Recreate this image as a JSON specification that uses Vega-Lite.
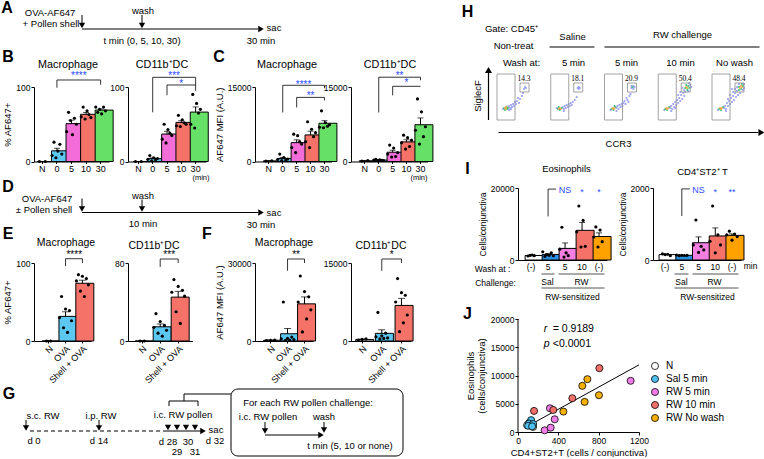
{
"$schema": "https://vega.github.io/schema/vega-lite/v6.json",
"padding": 0,
"background": "white",
"bounds": "flush",
"align": "each",
"columns": 12,
"spacing": 0,
"resolve": {"scale": {"fill": "independent", "color": "independent", "xOffset": "independent", "x": "independent", "y": "independent"}, "legend": {"fill": "independent", "color": "independent"}},
"config": {
 "font": "Liberation Sans",
 "view": {"stroke": null},
 "axis": {"labelFont": "Liberation Sans", "titleFont": "Liberation Sans", "labelFontSize": 8.5, "titleFontSize": 9.5, "titleFontWeight": "normal", "labelColor": "black", "titleColor": "black", "domainColor": "black", "tickColor": "black", "grid": false, "tickSize": 3, "labelPadding": 1, "titlePadding": 3, "domainWidth": 1, "tickWidth": 1, "labelFlush": false, "labelOverlap": false},
 "text": {"font": "Liberation Sans", "color": "black"},
 "legend": {"labelFont": "Liberation Sans", "labelColor": "black"}
},
"datasets": {
 "diag": [
  {"d":"A","k":"b","x":7,"y":8,"t":"A"},
  {"d":"A","k":"t","x":50,"y":13,"t":"OVA-AF647"},
  {"d":"A","k":"t","x":51,"y":24,"t":"+ Pollen shell"},
  {"d":"A","k":"t","x":143,"y":11,"t":"wash"},
  {"d":"A","k":"t","x":274,"y":28,"t":"sac"},
  {"d":"A","k":"t","x":142,"y":41,"t":"t min (0, 5, 10, 30)"},
  {"d":"A","k":"t","x":261,"y":41,"t":"30 min"},
  {"d":"A","k":"r","x":82,"y":29,"x2":258,"y2":29},
  {"d":"A","k":"r","x":82,"y":15,"x2":82,"y2":24},
  {"d":"A","k":"r","x":142,"y":15,"x2":142,"y2":24},
  {"d":"A","k":"vd","x":82,"y":25.5},
  {"d":"A","k":"vd","x":142,"y":25.5},
  {"d":"A","k":"vr","x":261,"y":29},
  {"d":"A","k":"b","x":8,"y":57,"t":"B"},
  {"d":"A","k":"b","x":219,"y":57,"t":"C"},
  {"d":"A","k":"ti","x":68,"y":65,"t":"Macrophage"},
  {"d":"A","k":"ti","x":162,"y":65,"t":"CD11b⁺DC"},
  {"d":"A","k":"ti","x":287,"y":65,"t":"Macrophage"},
  {"d":"A","k":"ti","x":390,"y":65,"t":"CD11b⁺DC"},
  {"d":"D","k":"ts","x":201,"y":177,"t":"(min)"},
  {"d":"D","k":"ts","x":419,"y":177,"t":"(min)"},
  {"d":"D","k":"b","x":8,"y":186,"t":"D"},
  {"d":"D","k":"t","x":47,"y":198,"t":"OVA-AF647"},
  {"d":"D","k":"t","x":44,"y":209,"t":"± Pollen shell"},
  {"d":"D","k":"t","x":143,"y":195,"t":"wash"},
  {"d":"D","k":"t","x":274,"y":212,"t":"sac"},
  {"d":"D","k":"t","x":143,"y":223,"t":"10 min"},
  {"d":"D","k":"t","x":261,"y":224,"t":"30 min"},
  {"d":"D","k":"r","x":82,"y":212,"x2":258,"y2":212},
  {"d":"D","k":"r","x":82,"y":198,"x2":82,"y2":207},
  {"d":"D","k":"r","x":142,"y":199,"x2":142,"y2":207},
  {"d":"D","k":"vd","x":82,"y":208.5},
  {"d":"D","k":"vd","x":142,"y":208.5},
  {"d":"D","k":"vr","x":261,"y":212},
  {"d":"D","k":"b","x":8,"y":233,"t":"E"},
  {"d":"D","k":"b","x":207,"y":233,"t":"F"},
  {"d":"D","k":"ti","x":66,"y":242,"t":"Macrophage"},
  {"d":"D","k":"ti","x":154,"y":245,"t":"CD11b⁺DC"},
  {"d":"D","k":"ti","x":284,"y":242,"t":"Macrophage"},
  {"d":"D","k":"ti","x":381,"y":245,"t":"CD11b⁺DC"},
  {"d":"G","k":"b","x":9,"y":393,"t":"G"},
  {"d":"G","k":"t","x":43,"y":415,"t":"s.c. RW"},
  {"d":"G","k":"t","x":101,"y":415,"t":"i.p. RW"},
  {"d":"G","k":"t","x":183,"y":414,"t":"i.c. RW pollen"},
  {"d":"G","k":"t","x":34,"y":440,"t":"d 0"},
  {"d":"G","k":"t","x":99,"y":440,"t":"d 14"},
  {"d":"G","k":"t","x":168,"y":441,"t":"d 28"},
  {"d":"G","k":"t","x":188,"y":441,"t":"30"},
  {"d":"G","k":"t","x":177,"y":451,"t":"29"},
  {"d":"G","k":"t","x":195,"y":451,"t":"31"},
  {"d":"G","k":"t","x":216,"y":429,"t":"sac"},
  {"d":"G","k":"t","x":215,"y":440,"t":"d 32"},
  {"d":"G","k":"r","x":26,"y":419,"x2":26,"y2":425},
  {"d":"G","k":"vd","x":26,"y":427},
  {"d":"G","k":"r","x":99,"y":419,"x2":99,"y2":425},
  {"d":"G","k":"vd","x":99,"y":427},
  {"d":"G","k":"vd","x":168,"y":426.5},
  {"d":"G","k":"vd","x":177,"y":426.5},
  {"d":"G","k":"vd","x":186,"y":426.5},
  {"d":"G","k":"vd","x":195,"y":426.5},
  {"d":"G","k":"rd","x":30,"y":430,"x2":163,"y2":430},
  {"d":"G","k":"r","x":163,"y":430,"x2":201,"y2":430},
  {"d":"G","k":"vr","x":203,"y":430},
  {"d":"G","k":"r","x":169,"y":400,"x2":198,"y2":400},
  {"d":"G","k":"r","x":169,"y":400,"x2":169,"y2":405},
  {"d":"G","k":"r","x":198,"y":400,"x2":198,"y2":405},
  {"d":"G","k":"r","x":184,"y":393,"x2":184,"y2":400},
  {"d":"G","k":"r","x":184,"y":393,"x2":231,"y2":393},
  {"d":"G","k":"box","x":231,"y":388,"x2":403,"y2":455},
  {"d":"G","k":"t","x":308,"y":402,"t":"For each RW pollen challenge:"},
  {"d":"G","k":"t","x":268,"y":416,"t":"i.c. RW pollen"},
  {"d":"G","k":"t","x":324,"y":416,"t":"wash"},
  {"d":"G","k":"t","x":350,"y":445,"t":"t min (5, 10 or none)"},
  {"d":"G","k":"r","x":265,"y":421,"x2":265,"y2":428},
  {"d":"G","k":"vd","x":265,"y":430},
  {"d":"G","k":"r","x":265,"y":434,"x2":319,"y2":434},
  {"d":"G","k":"vr","x":321,"y":434},
  {"d":"G","k":"r","x":324,"y":421,"x2":324,"y2":427},
  {"d":"G","k":"vd","x":324,"y":429},
  {"d":"Ht","k":"b","x":466,"y":12,"t":"H"},
  {"d":"Ht","k":"t","x":510,"y":29,"t":"Gate: CD45⁺"},
  {"d":"Ht","k":"t","x":512,"y":46,"t":"Non-treat"},
  {"d":"Ht","k":"t","x":571,"y":37,"t":"Saline"},
  {"d":"Ht","k":"t","x":681,"y":35,"t":"RW challenge"},
  {"d":"Ht","k":"r","x":548,"y":47,"x2":593,"y2":47},
  {"d":"Ht","k":"r","x":603,"y":47,"x2":758,"y2":47},
  {"d":"Ht","k":"t","x":520,"y":63,"t":"Wash at:"},
  {"d":"Ht","k":"t","x":572,"y":63,"t":"5 min"},
  {"d":"Ht","k":"t","x":625,"y":63,"t":"5 min"},
  {"d":"Ht","k":"t","x":679,"y":63,"t":"10 min"},
  {"d":"Ht","k":"t","x":733,"y":63,"t":"No wash"},
  {"d":"Ht","k":"r","x":487,"y":73,"x2":487,"y2":120},
  {"d":"Ht","k":"vu","x":487,"y":70},
  {"d":"Ht","k":"tr","x":476,"y":96,"t":"SiglecF"},
  {"d":"Hb","k":"r","x":497,"y":132,"x2":757,"y2":132},
  {"d":"Hb","k":"vr","x":760,"y":132},
  {"d":"Hb","k":"t","x":617,"y":143,"t":"CCR3"},
  {"d":"Hb","k":"b","x":466,"y":168,"t":"I"},
  {"d":"Hb","k":"t","x":565,"y":168,"t":"Eosinophils"},
  {"d":"Hb","k":"t","x":701,"y":171,"t":"CD4⁺ST2⁺ T"},
  {"d":"IJ","k":"ts","x":491,"y":268,"t":"Wash at :"},
  {"d":"IJ","k":"ts","x":494,"y":282,"t":"Challenge:"},
  {"d":"IJ","k":"ts","x":546,"y":281,"t":"Sal"},
  {"d":"IJ","k":"ts","x":580,"y":281,"t":"RW"},
  {"d":"IJ","k":"ts","x":680,"y":281,"t":"Sal"},
  {"d":"IJ","k":"ts","x":713,"y":281,"t":"RW"},
  {"d":"IJ","k":"ts","x":749,"y":265,"t":"min"},
  {"d":"IJ","k":"ts","x":571,"y":296,"t":"RW-sensitized"},
  {"d":"IJ","k":"ts","x":706,"y":296,"t":"RW-sensitized"},
  {"d":"IJ","k":"r","x":540,"y":273,"x2":553,"y2":273},
  {"d":"IJ","k":"r","x":557,"y":273,"x2":603,"y2":273},
  {"d":"IJ","k":"r","x":540,"y":287,"x2":603,"y2":287},
  {"d":"IJ","k":"r","x":673,"y":273,"x2":687,"y2":273},
  {"d":"IJ","k":"r","x":691,"y":273,"x2":737,"y2":273},
  {"d":"IJ","k":"r","x":673,"y":287,"x2":737,"y2":287},
  {"d":"IJ","k":"b","x":466,"y":313,"t":"J"},
  {"d":"IJ","k":"tr","x":469,"y":375,"t":"Eosinophils"},
  {"d":"IJ","k":"tr","x":480,"y":375,"t":"(cells/conjunctiva)"}
 ],
 "flow": [
  {"p":1,"k":"f","y":0,"y2":46},{"p":2,"k":"f","y":0,"y2":46},{"p":3,"k":"f","y":0,"y2":46},{"p":4,"k":"f","y":0,"y2":46},{"p":5,"k":"f","y":0,"y2":46},
  {"p":1,"k":"g","x":27.5,"y":13.5},{"p":2,"k":"g","x":27.5,"y":13.5},{"p":3,"k":"g","x":27.5,"y":13.5},{"p":4,"k":"g","x":27.5,"y":13.5},{"p":5,"k":"g","x":27.5,"y":13.5},
  {"p":1,"k":"n","x":27,"y":4.5,"t":"14.3"},{"p":2,"k":"n","x":27,"y":4.5,"t":"18.1"},{"p":3,"k":"n","x":27,"y":4.5,"t":"20.9"},{"p":4,"k":"n","x":27,"y":4.5,"t":"50.4"},{"p":5,"k":"n","x":27,"y":4.5,"t":"48.4"},
  {"p":1,"k":"c","x":8,"y":34,"z":2},{"p":1,"k":"c","x":9,"y":35,"z":2},{"p":1,"k":"c","x":9,"y":33,"z":2},
  {"p":1,"k":"c","x":7,"y":34,"z":1},{"p":1,"k":"c","x":10,"y":33,"z":1},{"p":1,"k":"c","x":10,"y":35,"z":1},{"p":1,"k":"c","x":8,"y":36,"z":1},{"p":1,"k":"c","x":11,"y":34,"z":1},
  {"p":1,"k":"c","x":6,"y":35,"z":0},{"p":1,"k":"c","x":12,"y":32,"z":0},{"p":1,"k":"c","x":13,"y":34,"z":0},{"p":1,"k":"c","x":14,"y":31,"z":0},{"p":1,"k":"c","x":12,"y":36,"z":0},{"p":1,"k":"c","x":15,"y":33,"z":0},{"p":1,"k":"c","x":16,"y":30,"z":0},{"p":1,"k":"c","x":17,"y":32,"z":0},{"p":1,"k":"c","x":18,"y":28,"z":0},{"p":1,"k":"c","x":19,"y":30,"z":0},{"p":1,"k":"c","x":20,"y":27,"z":0},{"p":1,"k":"c","x":22,"y":29,"z":0},{"p":1,"k":"c","x":23,"y":25,"z":0},{"p":1,"k":"c","x":21,"y":24,"z":0},{"p":1,"k":"c","x":25,"y":22,"z":0},{"p":1,"k":"c","x":14,"y":35,"z":0},{"p":1,"k":"c","x":26,"y":19,"z":0},{"p":1,"k":"c","x":27,"y":15,"z":0},{"p":1,"k":"c","x":28,"y":13,"z":0},{"p":1,"k":"c","x":29,"y":14,"z":0},
  {"p":2,"k":"c","x":9,"y":34,"z":2},{"p":2,"k":"c","x":10,"y":35,"z":2},{"p":2,"k":"c","x":8,"y":35,"z":2},
  {"p":2,"k":"c","x":8,"y":33,"z":1},{"p":2,"k":"c","x":11,"y":34,"z":1},{"p":2,"k":"c","x":9,"y":36,"z":1},{"p":2,"k":"c","x":7,"y":35,"z":1},
  {"p":2,"k":"c","x":12,"y":33,"z":0},{"p":2,"k":"c","x":13,"y":35,"z":0},{"p":2,"k":"c","x":14,"y":32,"z":0},{"p":2,"k":"c","x":15,"y":34,"z":0},{"p":2,"k":"c","x":16,"y":31,"z":0},{"p":2,"k":"c","x":17,"y":33,"z":0},{"p":2,"k":"c","x":18,"y":30,"z":0},{"p":2,"k":"c","x":20,"y":29,"z":0},{"p":2,"k":"c","x":19,"y":32,"z":0},{"p":2,"k":"c","x":22,"y":28,"z":0},{"p":2,"k":"c","x":24,"y":26,"z":0},{"p":2,"k":"c","x":13,"y":37,"z":0},{"p":2,"k":"c","x":6,"y":34,"z":0},{"p":2,"k":"c","x":21,"y":31,"z":0},{"p":2,"k":"c","x":26,"y":23,"z":0},{"p":2,"k":"c","x":27,"y":14,"z":0},{"p":2,"k":"c","x":28,"y":13,"z":0},{"p":2,"k":"c","x":29,"y":14,"z":0},{"p":2,"k":"c","x":28,"y":15,"z":0},
  {"p":3,"k":"c","x":9,"y":35,"z":2},{"p":3,"k":"c","x":8,"y":34,"z":2},{"p":3,"k":"c","x":10,"y":34,"z":2},
  {"p":3,"k":"c","x":7,"y":35,"z":1},{"p":3,"k":"c","x":11,"y":33,"z":1},{"p":3,"k":"c","x":9,"y":36,"z":1},{"p":3,"k":"c","x":10,"y":32,"z":1},{"p":3,"k":"c","x":28,"y":13,"z":1},
  {"p":3,"k":"c","x":12,"y":34,"z":0},{"p":3,"k":"c","x":13,"y":32,"z":0},{"p":3,"k":"c","x":14,"y":35,"z":0},{"p":3,"k":"c","x":15,"y":31,"z":0},{"p":3,"k":"c","x":16,"y":33,"z":0},{"p":3,"k":"c","x":17,"y":30,"z":0},{"p":3,"k":"c","x":18,"y":32,"z":0},{"p":3,"k":"c","x":19,"y":29,"z":0},{"p":3,"k":"c","x":20,"y":27,"z":0},{"p":3,"k":"c","x":21,"y":30,"z":0},{"p":3,"k":"c","x":23,"y":26,"z":0},{"p":3,"k":"c","x":22,"y":24,"z":0},{"p":3,"k":"c","x":25,"y":22,"z":0},{"p":3,"k":"c","x":24,"y":28,"z":0},{"p":3,"k":"c","x":26,"y":20,"z":0},{"p":3,"k":"c","x":6,"y":36,"z":0},{"p":3,"k":"c","x":12,"y":37,"z":0},{"p":3,"k":"c","x":27,"y":14,"z":0},{"p":3,"k":"c","x":29,"y":12,"z":0},{"p":3,"k":"c","x":29,"y":15,"z":0},{"p":3,"k":"c","x":30,"y":13,"z":0},{"p":3,"k":"c","x":27,"y":12,"z":0},
  {"p":4,"k":"c","x":9,"y":35,"z":2},{"p":4,"k":"c","x":8,"y":34,"z":2},{"p":4,"k":"c","x":10,"y":34,"z":2},{"p":4,"k":"c","x":28,"y":13,"z":2},{"p":4,"k":"c","x":29,"y":14,"z":2},
  {"p":4,"k":"c","x":7,"y":35,"z":1},{"p":4,"k":"c","x":11,"y":33,"z":1},{"p":4,"k":"c","x":9,"y":36,"z":1},{"p":4,"k":"c","x":27,"y":14,"z":1},{"p":4,"k":"c","x":30,"y":12,"z":1},{"p":4,"k":"c","x":29,"y":16,"z":1},{"p":4,"k":"c","x":28,"y":11,"z":1},{"p":4,"k":"c","x":31,"y":14,"z":1},
  {"p":4,"k":"c","x":12,"y":34,"z":0},{"p":4,"k":"c","x":13,"y":32,"z":0},{"p":4,"k":"c","x":14,"y":35,"z":0},{"p":4,"k":"c","x":15,"y":30,"z":0},{"p":4,"k":"c","x":16,"y":33,"z":0},{"p":4,"k":"c","x":17,"y":28,"z":0},{"p":4,"k":"c","x":18,"y":31,"z":0},{"p":4,"k":"c","x":19,"y":26,"z":0},{"p":4,"k":"c","x":20,"y":29,"z":0},{"p":4,"k":"c","x":21,"y":24,"z":0},{"p":4,"k":"c","x":22,"y":27,"z":0},{"p":4,"k":"c","x":23,"y":21,"z":0},{"p":4,"k":"c","x":24,"y":25,"z":0},{"p":4,"k":"c","x":25,"y":19,"z":0},{"p":4,"k":"c","x":26,"y":22,"z":0},{"p":4,"k":"c","x":26,"y":16,"z":0},{"p":4,"k":"c","x":24,"y":14,"z":0},{"p":4,"k":"c","x":32,"y":11,"z":0},{"p":4,"k":"c","x":30,"y":17,"z":0},{"p":4,"k":"c","x":22,"y":18,"z":0},{"p":4,"k":"c","x":20,"y":21,"z":0},{"p":4,"k":"c","x":6,"y":36,"z":0},{"p":4,"k":"c","x":13,"y":37,"z":0},{"p":4,"k":"c","x":17,"y":34,"z":0},{"p":4,"k":"c","x":27,"y":18,"z":0},{"p":4,"k":"c","x":31,"y":9,"z":0},{"p":4,"k":"c","x":33,"y":13,"z":0},
  {"p":5,"k":"c","x":9,"y":35,"z":2},{"p":5,"k":"c","x":8,"y":34,"z":2},{"p":5,"k":"c","x":10,"y":34,"z":2},{"p":5,"k":"c","x":29,"y":12,"z":2},{"p":5,"k":"c","x":30,"y":13,"z":2},{"p":5,"k":"c","x":28,"y":14,"z":2},
  {"p":5,"k":"c","x":7,"y":35,"z":1},{"p":5,"k":"c","x":11,"y":33,"z":1},{"p":5,"k":"c","x":9,"y":36,"z":1},{"p":5,"k":"c","x":27,"y":13,"z":1},{"p":5,"k":"c","x":31,"y":12,"z":1},{"p":5,"k":"c","x":29,"y":15,"z":1},{"p":5,"k":"c","x":30,"y":10,"z":1},{"p":5,"k":"c","x":27,"y":16,"z":1},
  {"p":5,"k":"c","x":12,"y":34,"z":0},{"p":5,"k":"c","x":13,"y":32,"z":0},{"p":5,"k":"c","x":14,"y":35,"z":0},{"p":5,"k":"c","x":15,"y":29,"z":0},{"p":5,"k":"c","x":16,"y":32,"z":0},{"p":5,"k":"c","x":17,"y":27,"z":0},{"p":5,"k":"c","x":18,"y":30,"z":0},{"p":5,"k":"c","x":19,"y":24,"z":0},{"p":5,"k":"c","x":20,"y":28,"z":0},{"p":5,"k":"c","x":21,"y":22,"z":0},{"p":5,"k":"c","x":22,"y":26,"z":0},{"p":5,"k":"c","x":23,"y":19,"z":0},{"p":5,"k":"c","x":24,"y":23,"z":0},{"p":5,"k":"c","x":25,"y":17,"z":0},{"p":5,"k":"c","x":26,"y":21,"z":0},{"p":5,"k":"c","x":25,"y":13,"z":0},{"p":5,"k":"c","x":23,"y":15,"z":0},{"p":5,"k":"c","x":32,"y":10,"z":0},{"p":5,"k":"c","x":31,"y":16,"z":0},{"p":5,"k":"c","x":21,"y":18,"z":0},{"p":5,"k":"c","x":18,"y":21,"z":0},{"p":5,"k":"c","x":6,"y":36,"z":0},{"p":5,"k":"c","x":14,"y":37,"z":0},{"p":5,"k":"c","x":16,"y":25,"z":0},{"p":5,"k":"c","x":28,"y":19,"z":0},{"p":5,"k":"c","x":32,"y":14,"z":0},{"p":5,"k":"c","x":27,"y":10,"z":0},{"p":5,"k":"c","x":20,"y":15,"z":0}
 ],
 "bars": [
  {"c":"Bmac","g":"N","i":1,"v":0},{"c":"Bmac","g":"N","i":4,"v":0},
  {"c":"Bmac","g":"0","i":0,"v":8},{"c":"Bmac","g":"0","i":1,"v":26},{"c":"Bmac","g":"0","i":2,"v":5},{"c":"Bmac","g":"0","i":3,"v":14},{"c":"Bmac","g":"0","i":4,"v":23},{"c":"Bmac","g":"0","i":5,"v":10},
  {"c":"Bmac","g":"5","i":0,"v":40},{"c":"Bmac","g":"5","i":1,"v":66},{"c":"Bmac","g":"5","i":2,"v":55},{"c":"Bmac","g":"5","i":3,"v":36},{"c":"Bmac","g":"5","i":4,"v":58},{"c":"Bmac","g":"5","i":5,"v":50},
  {"c":"Bmac","g":"10","i":0,"v":60},{"c":"Bmac","g":"10","i":1,"v":73},{"c":"Bmac","g":"10","i":2,"v":57},{"c":"Bmac","g":"10","i":3,"v":68},{"c":"Bmac","g":"10","i":4,"v":63},{"c":"Bmac","g":"10","i":5,"v":59},
  {"c":"Bmac","g":"30","i":0,"v":73},{"c":"Bmac","g":"30","i":1,"v":66},{"c":"Bmac","g":"30","i":2,"v":70},{"c":"Bmac","g":"30","i":3,"v":64},{"c":"Bmac","g":"30","i":4,"v":73},{"c":"Bmac","g":"30","i":5,"v":68},
  {"c":"Bdc","g":"N","i":1,"v":0},{"c":"Bdc","g":"N","i":4,"v":0},
  {"c":"Bdc","g":"0","i":0,"v":3},{"c":"Bdc","g":"0","i":1,"v":8},{"c":"Bdc","g":"0","i":2,"v":1},{"c":"Bdc","g":"0","i":3,"v":5},{"c":"Bdc","g":"0","i":4,"v":2},{"c":"Bdc","g":"0","i":5,"v":4},
  {"c":"Bdc","g":"5","i":0,"v":30},{"c":"Bdc","g":"5","i":1,"v":50},{"c":"Bdc","g":"5","i":2,"v":25},{"c":"Bdc","g":"5","i":3,"v":43},{"c":"Bdc","g":"5","i":4,"v":38},{"c":"Bdc","g":"5","i":5,"v":35},
  {"c":"Bdc","g":"10","i":0,"v":48},{"c":"Bdc","g":"10","i":1,"v":62},{"c":"Bdc","g":"10","i":2,"v":47},{"c":"Bdc","g":"10","i":3,"v":56},{"c":"Bdc","g":"10","i":4,"v":52},{"c":"Bdc","g":"10","i":5,"v":50},
  {"c":"Bdc","g":"30","i":0,"v":50},{"c":"Bdc","g":"30","i":1,"v":90},{"c":"Bdc","g":"30","i":2,"v":45},{"c":"Bdc","g":"30","i":3,"v":78},{"c":"Bdc","g":"30","i":4,"v":65},{"c":"Bdc","g":"30","i":5,"v":70},
  {"c":"Cmac","g":"N","i":1,"v":100},{"c":"Cmac","g":"N","i":4,"v":150},
  {"c":"Cmac","g":"0","i":0,"v":400},{"c":"Cmac","g":"0","i":1,"v":1500},{"c":"Cmac","g":"0","i":2,"v":200},{"c":"Cmac","g":"0","i":3,"v":800},{"c":"Cmac","g":"0","i":4,"v":300},{"c":"Cmac","g":"0","i":5,"v":500},
  {"c":"Cmac","g":"5","i":0,"v":2800},{"c":"Cmac","g":"5","i":1,"v":5500},{"c":"Cmac","g":"5","i":2,"v":1800},{"c":"Cmac","g":"5","i":3,"v":5200},{"c":"Cmac","g":"5","i":4,"v":4000},{"c":"Cmac","g":"5","i":5,"v":3500},
  {"c":"Cmac","g":"10","i":0,"v":4000},{"c":"Cmac","g":"10","i":1,"v":8000},{"c":"Cmac","g":"10","i":2,"v":2800},{"c":"Cmac","g":"10","i":3,"v":6500},{"c":"Cmac","g":"10","i":4,"v":5000},{"c":"Cmac","g":"10","i":5,"v":5800},
  {"c":"Cmac","g":"30","i":0,"v":6900},{"c":"Cmac","g":"30","i":1,"v":10200},{"c":"Cmac","g":"30","i":2,"v":6800},{"c":"Cmac","g":"30","i":3,"v":7800},{"c":"Cmac","g":"30","i":4,"v":7100},{"c":"Cmac","g":"30","i":5,"v":7400},
  {"c":"Cdc","g":"N","i":1,"v":100},{"c":"Cdc","g":"N","i":4,"v":200},
  {"c":"Cdc","g":"0","i":0,"v":300},{"c":"Cdc","g":"0","i":1,"v":450},{"c":"Cdc","g":"0","i":2,"v":150},{"c":"Cdc","g":"0","i":3,"v":350},{"c":"Cdc","g":"0","i":4,"v":250},{"c":"Cdc","g":"0","i":5,"v":200},
  {"c":"Cdc","g":"5","i":0,"v":1500},{"c":"Cdc","g":"5","i":1,"v":3300},{"c":"Cdc","g":"5","i":2,"v":900},{"c":"Cdc","g":"5","i":3,"v":2700},{"c":"Cdc","g":"5","i":4,"v":1000},{"c":"Cdc","g":"5","i":5,"v":1800},
  {"c":"Cdc","g":"10","i":0,"v":3800},{"c":"Cdc","g":"10","i":1,"v":5300},{"c":"Cdc","g":"10","i":2,"v":2500},{"c":"Cdc","g":"10","i":3,"v":4800},{"c":"Cdc","g":"10","i":4,"v":3000},{"c":"Cdc","g":"10","i":5,"v":4300},
  {"c":"Cdc","g":"30","i":0,"v":6300},{"c":"Cdc","g":"30","i":1,"v":12600},{"c":"Cdc","g":"30","i":2,"v":3500},{"c":"Cdc","g":"30","i":3,"v":10000},{"c":"Cdc","g":"30","i":4,"v":5000},{"c":"Cdc","g":"30","i":5,"v":7000},
  {"c":"Emac","g":"N","i":2,"v":0},{"c":"Emac","g":"N","i":4,"v":0},
  {"c":"Emac","g":"OVA","i":0,"v":30},{"c":"Emac","g":"OVA","i":1,"v":57},{"c":"Emac","g":"OVA","i":2,"v":17},{"c":"Emac","g":"OVA","i":3,"v":41},{"c":"Emac","g":"OVA","i":4,"v":11},{"c":"Emac","g":"OVA","i":5,"v":39},{"c":"Emac","g":"OVA","i":6,"v":26},
  {"c":"Emac","g":"S","i":0,"v":77},{"c":"Emac","g":"S","i":1,"v":85},{"c":"Emac","g":"S","i":2,"v":64},{"c":"Emac","g":"S","i":3,"v":83},{"c":"Emac","g":"S","i":4,"v":57},{"c":"Emac","g":"S","i":5,"v":80},{"c":"Emac","g":"S","i":6,"v":72},
  {"c":"Edc","g":"N","i":2,"v":0},{"c":"Edc","g":"N","i":4,"v":0},
  {"c":"Edc","g":"OVA","i":0,"v":14},{"c":"Edc","g":"OVA","i":1,"v":28},{"c":"Edc","g":"OVA","i":2,"v":8},{"c":"Edc","g":"OVA","i":3,"v":20},{"c":"Edc","g":"OVA","i":4,"v":5},{"c":"Edc","g":"OVA","i":5,"v":16},{"c":"Edc","g":"OVA","i":6,"v":11},
  {"c":"Edc","g":"S","i":0,"v":50},{"c":"Edc","g":"S","i":1,"v":63},{"c":"Edc","g":"S","i":2,"v":30},{"c":"Edc","g":"S","i":3,"v":56},{"c":"Edc","g":"S","i":4,"v":18},{"c":"Edc","g":"S","i":5,"v":52},{"c":"Edc","g":"S","i":6,"v":46},
  {"c":"Fmac","g":"N","i":1,"v":200},{"c":"Fmac","g":"N","i":3,"v":300},{"c":"Fmac","g":"N","i":5,"v":400},
  {"c":"Fmac","g":"OVA","i":0,"v":800},{"c":"Fmac","g":"OVA","i":1,"v":15000},{"c":"Fmac","g":"OVA","i":2,"v":300},{"c":"Fmac","g":"OVA","i":3,"v":1000},{"c":"Fmac","g":"OVA","i":4,"v":400},{"c":"Fmac","g":"OVA","i":5,"v":1500},{"c":"Fmac","g":"OVA","i":6,"v":500},
  {"c":"Fmac","g":"S","i":0,"v":15000},{"c":"Fmac","g":"S","i":1,"v":25000},{"c":"Fmac","g":"S","i":2,"v":3500},{"c":"Fmac","g":"S","i":3,"v":19000},{"c":"Fmac","g":"S","i":4,"v":8500},{"c":"Fmac","g":"S","i":5,"v":17000},{"c":"Fmac","g":"S","i":6,"v":12000},
  {"c":"Fdc","g":"N","i":1,"v":200},{"c":"Fdc","g":"N","i":3,"v":300},{"c":"Fdc","g":"N","i":5,"v":400},
  {"c":"Fdc","g":"OVA","i":0,"v":800},{"c":"Fdc","g":"OVA","i":1,"v":5500},{"c":"Fdc","g":"OVA","i":2,"v":400},{"c":"Fdc","g":"OVA","i":3,"v":1000},{"c":"Fdc","g":"OVA","i":4,"v":500},{"c":"Fdc","g":"OVA","i":5,"v":1500},{"c":"Fdc","g":"OVA","i":6,"v":600},
  {"c":"Fdc","g":"S","i":0,"v":7500},{"c":"Fdc","g":"S","i":1,"v":12000},{"c":"Fdc","g":"S","i":2,"v":1800},{"c":"Fdc","g":"S","i":3,"v":9300},{"c":"Fdc","g":"S","i":4,"v":3500},{"c":"Fdc","g":"S","i":5,"v":8800},{"c":"Fdc","g":"S","i":6,"v":5000},
  {"c":"Ieos","g":"N","i":1,"v":1100},{"c":"Ieos","g":"N","i":2,"v":1300},{"c":"Ieos","g":"N","i":3,"v":1400},{"c":"Ieos","g":"N","i":4,"v":1200},
  {"c":"Ieos","g":"Sal","i":0,"v":2300},{"c":"Ieos","g":"Sal","i":1,"v":1000},{"c":"Ieos","g":"Sal","i":2,"v":1500},{"c":"Ieos","g":"Sal","i":3,"v":1300},{"c":"Ieos","g":"Sal","i":4,"v":2000},{"c":"Ieos","g":"Sal","i":5,"v":1200},
  {"c":"Ieos","g":"RW5","i":0,"v":3000},{"c":"Ieos","g":"RW5","i":1,"v":9100},{"c":"Ieos","g":"RW5","i":2,"v":800},{"c":"Ieos","g":"RW5","i":3,"v":2000},{"c":"Ieos","g":"RW5","i":4,"v":1200},
  {"c":"Ieos","g":"RW10","i":0,"v":7800},{"c":"Ieos","g":"RW10","i":1,"v":15000},{"c":"Ieos","g":"RW10","i":2,"v":3600},{"c":"Ieos","g":"RW10","i":3,"v":11000},{"c":"Ieos","g":"RW10","i":4,"v":3800},
  {"c":"Ieos","g":"RWnw","i":0,"v":6400},{"c":"Ieos","g":"RWnw","i":1,"v":9200},{"c":"Ieos","g":"RWnw","i":2,"v":3600},{"c":"Ieos","g":"RWnw","i":3,"v":8300},{"c":"Ieos","g":"RWnw","i":4,"v":5100},
  {"c":"Icd4","g":"N","i":1,"v":170},{"c":"Icd4","g":"N","i":2,"v":150},{"c":"Icd4","g":"N","i":3,"v":160},{"c":"Icd4","g":"N","i":4,"v":120},
  {"c":"Icd4","g":"Sal","i":0,"v":140},{"c":"Icd4","g":"Sal","i":1,"v":120},{"c":"Icd4","g":"Sal","i":2,"v":130},{"c":"Icd4","g":"Sal","i":3,"v":125},{"c":"Icd4","g":"Sal","i":4,"v":130},
  {"c":"Icd4","g":"RW5","i":0,"v":420},{"c":"Icd4","g":"RW5","i":1,"v":1110},{"c":"Icd4","g":"RW5","i":2,"v":210},{"c":"Icd4","g":"RW5","i":3,"v":380},{"c":"Icd4","g":"RW5","i":4,"v":280},
  {"c":"Icd4","g":"RW10","i":0,"v":520},{"c":"Icd4","g":"RW10","i":1,"v":1500},{"c":"Icd4","g":"RW10","i":2,"v":200},{"c":"Icd4","g":"RW10","i":3,"v":700},{"c":"Icd4","g":"RW10","i":4,"v":420},
  {"c":"Icd4","g":"RWnw","i":0,"v":700},{"c":"Icd4","g":"RWnw","i":1,"v":800},{"c":"Icd4","g":"RWnw","i":2,"v":550},{"c":"Icd4","g":"RWnw","i":3,"v":720},{"c":"Icd4","g":"RWnw","i":4,"v":650}
 ],
 "sigr": [
  {"c":"Bmac","x":"0","x2":"30","y":109.4,"y2":109.4},{"c":"Bmac","x":"0","x2":"0","y":109.4,"y2":99},{"c":"Bmac","x":"30","x2":"30","y":109.4,"y2":103},
  {"c":"Bdc","x":"0","x2":"30","y":113,"y2":113},{"c":"Bdc","x":"0","x2":"0","y":113,"y2":66},{"c":"Bdc","x":"30","x2":"30","y":113,"y2":95},{"c":"Bdc","x":"5","x2":"30","y":102.7,"y2":102.7},{"c":"Bdc","x":"5","x2":"5","y":102.7,"y2":89},
  {"c":"Cmac","x":"0","x2":"30","y":15345,"y2":15345},{"c":"Cmac","x":"0","x2":"0","y":15345,"y2":9870},{"c":"Cmac","x":"30","x2":"30","y":15345,"y2":14740},{"c":"Cmac","x":"5","x2":"30","y":12910,"y2":12910},{"c":"Cmac","x":"5","x2":"5","y":12910,"y2":10880},{"c":"Cmac","x":"30","x2":"30","y":12910,"y2":12300},
  {"c":"Cdc","x":"0","x2":"30","y":16970,"y2":16970},{"c":"Cdc","x":"0","x2":"0","y":16970,"y2":9870},{"c":"Cdc","x":"30","x2":"30","y":16970,"y2":16360},{"c":"Cdc","x":"5","x2":"30","y":15140,"y2":15140},{"c":"Cdc","x":"5","x2":"5","y":15140,"y2":13320},
  {"c":"Emac","x":"OVA","x2":"S","y":105.5,"y2":105.5},{"c":"Emac","x":"OVA","x2":"OVA","y":105.5,"y2":96},{"c":"Emac","x":"S","x2":"S","y":105.5,"y2":100},
  {"c":"Edc","x":"OVA","x2":"S","y":84.1,"y2":84.1},{"c":"Edc","x":"OVA","x2":"OVA","y":84.1,"y2":75.9},{"c":"Edc","x":"S","x2":"S","y":84.1,"y2":80},
  {"c":"Fmac","x":"OVA","x2":"S","y":31540,"y2":31540},{"c":"Fmac","x":"OVA","x2":"OVA","y":31540,"y2":27000},{"c":"Fmac","x":"S","x2":"S","y":31540,"y2":30000},
  {"c":"Fdc","x":"OVA","x2":"S","y":15770,"y2":15770},{"c":"Fdc","x":"OVA","x2":"OVA","y":15770,"y2":13500},{"c":"Fdc","x":"S","x2":"S","y":15770,"y2":15000},
  {"c":"Ieos","x":"Sal","x2":"Sal","y":19700,"y2":12100},{"c":"IeosH","x":"Sal","x2":"Sal","y":19700,"y2":19700},
  {"c":"Icd4","x":"Sal","x2":"Sal","y":1975,"y2":1222},{"c":"Icd4H","x":"Sal","x2":"Sal","y":1975,"y2":1975}
 ],
 "sigt": [
  {"c":"Bmac","x":"5","y":111.1,"t":"****","h":1},
  {"c":"Bdc","x":"5","y":110.7,"t":"***","h":1},{"c":"Bdc","x":"10","y":99.4,"t":"*","h":0},
  {"c":"Cmac","x":"5","y":14860,"t":"****","h":1},{"c":"Cmac","x":"10","y":12570,"t":"**","h":0},
  {"c":"Cdc","x":"5","y":16620,"t":"**","h":1},{"c":"Cdc","x":"10","y":15200,"t":"*","h":0},
  {"c":"Emac","x":"OVA","y":106.8,"t":"****","h":1},
  {"c":"Edc","x":"OVA","y":85,"t":"***","h":1},
  {"c":"Fmac","x":"OVA","y":31900,"t":"**","h":1},
  {"c":"Fdc","x":"OVA","y":15960,"t":"*","h":1},
  {"c":"Ieos","x":"RW5","y":18700,"t":"NS","h":0},{"c":"Ieos","x":"RW10","y":18100,"t":"*","h":0},{"c":"Ieos","x":"RWnw","y":18100,"t":"*","h":0},
  {"c":"Icd4","x":"RW5","y":1874,"t":"NS","h":0},{"c":"Icd4","x":"RW10","y":1814,"t":"*","h":0},{"c":"Icd4","x":"RWnw","y":1814,"t":"**","h":0}
 ],
 "J": [
  {"grp":"N","cd4":90,"eos":1200},{"grp":"N","cd4":110,"eos":1600},{"grp":"N","cd4":150,"eos":900},{"grp":"N","cd4":140,"eos":1300},
  {"grp":"Sal 5 min","cd4":130,"eos":2100},{"grp":"Sal 5 min","cd4":110,"eos":1500},{"grp":"Sal 5 min","cd4":150,"eos":1400},{"grp":"Sal 5 min","cd4":100,"eos":1100},{"grp":"Sal 5 min","cd4":140,"eos":1000},
  {"grp":"RW 5 min","cd4":264,"eos":300},{"grp":"RW 5 min","cd4":324,"eos":770},{"grp":"RW 5 min","cd4":364,"eos":2250},{"grp":"RW 5 min","cd4":317,"eos":4200},{"grp":"RW 5 min","cd4":1117,"eos":9060},
  {"grp":"RW 10 min","cd4":159,"eos":3730},{"grp":"RW 10 min","cd4":350,"eos":3900},{"grp":"RW 10 min","cd4":539,"eos":5980},{"grp":"RW 10 min","cd4":807,"eos":11300},
  {"grp":"RW No wash","cd4":638,"eos":8170},{"grp":"RW No wash","cd4":688,"eos":9350},{"grp":"RW No wash","cd4":661,"eos":5330},{"grp":"RW No wash","cd4":803,"eos":6510},{"grp":"RW No wash","cd4":450,"eos":3610}
 ]
},
"concat": [
 {
  "width": 34, "height": 87,
  "data": {"name": "diag"},
  "transform": [{"filter": "datum.d == 'A'"}],
  "encoding": {
   "x": {"field": "x", "type": "quantitative", "scale": {"domain": [0, 34], "nice": false, "zero": false}, "axis": null},
   "y": {"field": "y", "type": "quantitative", "scale": {"domain": [0, 87], "nice": false, "zero": false, "reverse": true}, "axis": null}
  },
  "layer": [
   {"transform": [{"filter": "datum.k == 'r'"}], "mark": {"type": "rule", "color": "black", "strokeWidth": 1}, "encoding": {"x2": {"field": "x2"}, "y2": {"field": "y2"}}},
   {"transform": [{"filter": "datum.k == 'vd'"}], "mark": {"type": "point", "shape": "triangle-down", "filled": true, "color": "black", "opacity": 1, "size": 40}},
   {"transform": [{"filter": "datum.k == 'vr'"}], "mark": {"type": "point", "shape": "triangle-right", "filled": true, "color": "black", "opacity": 1, "size": 40}},
   {"transform": [{"filter": "datum.k == 't'"}], "mark": {"type": "text", "fontSize": 9.5}, "encoding": {"text": {"field": "t"}}},
   {"transform": [{"filter": "datum.k == 'ti'"}], "mark": {"type": "text", "fontSize": 10.8}, "encoding": {"text": {"field": "t"}}},
   {"transform": [{"filter": "datum.k == 'b'"}], "mark": {"type": "text", "fontSize": 16, "fontWeight": "bold"}, "encoding": {"text": {"field": "t"}}}
  ]
 },
 {"width": 0.01, "height": 0.01, "data": {"values": []}, "mark": "point"},
 {"width": 0.01, "height": 0.01, "data": {"values": []}, "mark": "point"},
 {"width": 0.01, "height": 0.01, "data": {"values": []}, "mark": "point"},
 {"width": 0.01, "height": 0.01, "data": {"values": []}, "mark": "point"},
 {"width": 0.01, "height": 0.01, "data": {"values": []}, "mark": "point"},
 {"width": 0.01, "height": 0.01, "data": {"values": []}, "mark": "point"},
 {"width": 0.01, "height": 0.01, "data": {"values": []}, "mark": "point"},
 {"width": 0.01, "height": 0.01, "data": {"values": []}, "mark": "point"},
 {
  "width": 1, "height": 1,
  "data": {"name": "diag"},
  "transform": [{"filter": "datum.d == 'Ht'"}],
  "encoding": {
   "x": {"field": "x", "type": "quantitative", "scale": {"domain": [516.5, 517.5], "nice": false, "zero": false}, "axis": null},
   "y": {"field": "y", "type": "quantitative", "scale": {"domain": [0, 1], "nice": false, "zero": false, "reverse": true}, "axis": null}
  },
  "layer": [
   {"transform": [{"filter": "datum.k == 'r'"}], "mark": {"type": "rule", "color": "black", "strokeWidth": 1.2}, "encoding": {"x2": {"field": "x2"}, "y2": {"field": "y2"}}},
   {"transform": [{"filter": "datum.k == 'vu'"}], "mark": {"type": "point", "shape": "triangle-up", "filled": true, "color": "black", "opacity": 1, "size": 50}},
   {"transform": [{"filter": "datum.k == 't'"}], "mark": {"type": "text", "fontSize": 9.5}, "encoding": {"text": {"field": "t"}}},
   {"transform": [{"filter": "datum.k == 'tr'"}], "mark": {"type": "text", "fontSize": 9.5, "angle": 270}, "encoding": {"text": {"field": "t"}}},
   {"transform": [{"filter": "datum.k == 'b'"}], "mark": {"type": "text", "fontSize": 16, "fontWeight": "bold"}, "encoding": {"text": {"field": "t"}}}
  ]
 },
 {"width": 0.01, "height": 0.01, "data": {"values": []}, "mark": "point"},
 {
  "width": 1, "height": 1,
  "data": {"name": "flow"},
  "encoding": {
   "x": {"field": "p", "type": "ordinal", "scale": {"domain": [1, 2, 3, 4, 5], "range": [-156, 105.5], "paddingInner": 0.1349, "paddingOuter": 0}, "axis": null},
   "y": {"field": "y", "type": "quantitative", "scale": {"domain": [0, 46], "range": [74, 120], "nice": false, "zero": false}, "axis": null}
  },
  "layer": [
   {"transform": [{"filter": "datum.k == 'c'"}], "mark": {"type": "circle", "size": 5, "opacity": 0.9},
    "encoding": {"xOffset": {"field": "x", "type": "quantitative", "scale": {"domain": [0, 46.5], "nice": false, "zero": false}}, "color": {"field": "z", "type": "ordinal", "scale": {"domain": [0, 1, 2], "range": ["#8f95f2", "#2fbf71", "#f2a541"]}, "legend": null}, "order": {"field": "z"}}},
   {"transform": [{"filter": "datum.k == 'f'"}], "mark": {"type": "rect", "filled": false, "color": "#8c8c8c", "strokeWidth": 0.8}, "encoding": {"y2": {"field": "y2"}}},
   {"transform": [{"filter": "datum.k == 'g'"}], "mark": {"type": "point", "shape": "square", "filled": false, "color": "#8c8c8c", "strokeWidth": 0.8, "size": 81, "opacity": 1}, "encoding": {"xOffset": {"field": "x", "type": "quantitative"}}},
   {"transform": [{"filter": "datum.k == 'n'"}], "mark": {"type": "text", "font": "Liberation Serif", "fontSize": 7.5}, "encoding": {"xOffset": {"field": "x", "type": "quantitative"}, "text": {"field": "t"}}}
  ]
 },

 {"width": 0.01, "height": 0.01, "data": {"values": []}, "mark": "point"},
 {
  "width": 75, "height": 74.5,
  "layer": [
   {"data": {"name": "bars"}, "transform": [{"filter": "datum.c == 'Bmac'"}], "mark": {"type": "errorbar", "extent": "stderr", "ticks": {"size": 6}, "color": "black"},
    "encoding": {"x": {"field": "g", "type": "nominal", "title": null, "scale": {"domain": ["N","0","5","10","30"], "paddingInner": 0.25, "paddingOuter": 0.2}, "axis": {"labelAngle": 0, "tickSize": 2, "labelFontSize": 9}},
                 "y": {"field": "v", "type": "quantitative", "title": "% AF647+", "scale": {"domain": [0, 100], "nice": false}, "axis": {"values": [0,20,40,60,80,100]}}}},
   {"data": {"name": "bars"}, "transform": [{"filter": "datum.c == 'Bmac'"}], "mark": {"type": "bar", "stroke": "black", "strokeWidth": 1},
    "encoding": {"x": {"field": "g", "type": "nominal", "title": null}, "y": {"aggregate": "mean", "field": "v", "type": "quantitative", "title": "% AF647+"},
                 "fill": {"field": "g", "type": "nominal", "scale": {"domain": ["N","0","5","10","30"], "range": ["#ffffff","#5cc8f2","#f26dd8","#f47268","#66e066"]}, "legend": null}}},
   {"data": {"name": "bars"}, "transform": [{"filter": "datum.c == 'Bmac'"}], "mark": {"type": "point", "filled": true, "color": "black", "size": 10, "opacity": 1},
    "encoding": {"x": {"field": "g", "type": "nominal", "title": null}, "xOffset": {"field": "i", "type": "ordinal", "scale": {"paddingOuter": 0.3}}, "y": {"field": "v", "type": "quantitative", "title": "% AF647+"}}},
   {"data": {"name": "sigr"}, "transform": [{"filter": "datum.c == 'Bmac'"}], "mark": {"type": "rule", "color": "black", "strokeWidth": 0.8},
    "encoding": {"x": {"field": "x", "type": "nominal", "title": null}, "x2": {"field": "x2"}, "y": {"field": "y", "type": "quantitative", "title": "% AF647+"}, "y2": {"field": "y2"}}},
   {"data": {"name": "sigt"}, "transform": [{"filter": "datum.c == 'Bmac'"}], "mark": {"type": "text", "baseline": "alphabetic", "fontSize": 10, "color": "#2b4cff", "dx": 7.3},
    "encoding": {"x": {"field": "x", "type": "nominal", "title": null}, "y": {"field": "y", "type": "quantitative", "title": "% AF647+"}, "text": {"field": "t"}}}
  ]
 },
 {"width": 19, "height": 0.01, "data": {"values": []}, "mark": "point"},
 {
  "width": 78, "height": 74.5,
  "layer": [
   {"data": {"name": "bars"}, "transform": [{"filter": "datum.c == 'Bdc'"}], "mark": {"type": "errorbar", "extent": "stderr", "ticks": {"size": 6}, "color": "black"},
    "encoding": {"x": {"field": "g", "type": "nominal", "title": null, "scale": {"domain": ["N","0","5","10","30"], "paddingInner": 0.25, "paddingOuter": 0.35}, "axis": {"labelAngle": 0, "tickSize": 2, "labelFontSize": 9}},
                 "y": {"field": "v", "type": "quantitative", "title": null, "scale": {"domain": [0, 100], "nice": false}, "axis": {"values": [0,20,40,60,80,100]}}}},
   {"data": {"name": "bars"}, "transform": [{"filter": "datum.c == 'Bdc'"}], "mark": {"type": "bar", "stroke": "black", "strokeWidth": 1},
    "encoding": {"x": {"field": "g", "type": "nominal", "title": null}, "y": {"aggregate": "mean", "field": "v", "type": "quantitative", "title": null},
                 "fill": {"field": "g", "type": "nominal", "scale": {"domain": ["N","0","5","10","30"], "range": ["#ffffff","#5cc8f2","#f26dd8","#f47268","#66e066"]}, "legend": null}}},
   {"data": {"name": "bars"}, "transform": [{"filter": "datum.c == 'Bdc'"}], "mark": {"type": "point", "filled": true, "color": "black", "size": 10, "opacity": 1},
    "encoding": {"x": {"field": "g", "type": "nominal", "title": null}, "xOffset": {"field": "i", "type": "ordinal", "scale": {"paddingOuter": 0.3}}, "y": {"field": "v", "type": "quantitative", "title": null}}},
   {"data": {"name": "sigr"}, "transform": [{"filter": "datum.c == 'Bdc'"}], "mark": {"type": "rule", "color": "black", "strokeWidth": 0.8},
    "encoding": {"x": {"field": "x", "type": "nominal", "title": null}, "x2": {"field": "x2"}, "y": {"field": "y", "type": "quantitative", "title": null}, "y2": {"field": "y2"}}},
   {"data": {"name": "sigt"}, "transform": [{"filter": "datum.c == 'Bdc' && datum.h == 1"}], "mark": {"type": "text", "baseline": "alphabetic", "fontSize": 10, "color": "#2b4cff", "dx": 7.15},
    "encoding": {"x": {"field": "x", "type": "nominal", "title": null}, "y": {"field": "y", "type": "quantitative", "title": null}, "text": {"field": "t"}}},
   {"data": {"name": "sigt"}, "transform": [{"filter": "datum.c == 'Bdc' && datum.h == 0"}], "mark": {"type": "text", "baseline": "alphabetic", "fontSize": 10, "color": "#2b4cff"},
    "encoding": {"x": {"field": "x", "type": "nominal", "title": null}, "y": {"field": "y", "type": "quantitative", "title": null}, "text": {"field": "t"}}}
  ]
 },
 {"width": 49, "height": 0.01, "data": {"values": []}, "mark": "point"},
 {
  "width": 76.5, "height": 74.5,
  "layer": [
   {"data": {"name": "bars"}, "transform": [{"filter": "datum.c == 'Cmac'"}], "mark": {"type": "errorbar", "extent": "stderr", "ticks": {"size": 6}, "color": "black"},
    "encoding": {"x": {"field": "g", "type": "nominal", "title": null, "scale": {"domain": ["N","0","5","10","30"], "paddingInner": 0.2, "paddingOuter": 0.35, "align": 0.85}, "axis": {"labelAngle": 0, "tickSize": 2, "labelFontSize": 9}},
                 "y": {"field": "v", "type": "quantitative", "title": "AF647 MFI (A.U.)", "scale": {"domain": [0, 15000], "nice": false}, "axis": {"values": [0,5000,10000,15000], "format": "d"}}}},
   {"data": {"name": "bars"}, "transform": [{"filter": "datum.c == 'Cmac'"}], "mark": {"type": "bar", "stroke": "black", "strokeWidth": 1},
    "encoding": {"x": {"field": "g", "type": "nominal", "title": null}, "y": {"aggregate": "mean", "field": "v", "type": "quantitative", "title": "AF647 MFI (A.U.)"},
                 "fill": {"field": "g", "type": "nominal", "scale": {"domain": ["N","0","5","10","30"], "range": ["#ffffff","#5cc8f2","#f26dd8","#f47268","#66e066"]}, "legend": null}}},
   {"data": {"name": "bars"}, "transform": [{"filter": "datum.c == 'Cmac'"}], "mark": {"type": "point", "filled": true, "color": "black", "size": 10, "opacity": 1},
    "encoding": {"x": {"field": "g", "type": "nominal", "title": null}, "xOffset": {"field": "i", "type": "ordinal", "scale": {"paddingOuter": 0.3}}, "y": {"field": "v", "type": "quantitative", "title": "AF647 MFI (A.U.)"}}},
   {"data": {"name": "sigr"}, "transform": [{"filter": "datum.c == 'Cmac'"}], "mark": {"type": "rule", "color": "black", "strokeWidth": 0.8},
    "encoding": {"x": {"field": "x", "type": "nominal", "title": null}, "x2": {"field": "x2"}, "y": {"field": "y", "type": "quantitative", "title": "AF647 MFI (A.U.)"}, "y2": {"field": "y2"}}},
   {"data": {"name": "sigt"}, "transform": [{"filter": "datum.c == 'Cmac' && datum.h == 1"}], "mark": {"type": "text", "baseline": "alphabetic", "fontSize": 10, "color": "#2b4cff", "dx": 6.95},
    "encoding": {"x": {"field": "x", "type": "nominal", "title": null}, "y": {"field": "y", "type": "quantitative", "title": "AF647 MFI (A.U.)"}, "text": {"field": "t"}}},
   {"data": {"name": "sigt"}, "transform": [{"filter": "datum.c == 'Cmac' && datum.h == 0"}], "mark": {"type": "text", "baseline": "alphabetic", "fontSize": 10, "color": "#2b4cff"},
    "encoding": {"x": {"field": "x", "type": "nominal", "title": null}, "y": {"field": "y", "type": "quantitative", "title": "AF647 MFI (A.U.)"}, "text": {"field": "t"}}}
  ]
 },
 {"width": 18.5, "height": 0.01, "data": {"values": []}, "mark": "point"},
 {
  "width": 76.5, "height": 74.5,
  "layer": [
   {"data": {"name": "bars"}, "transform": [{"filter": "datum.c == 'Cdc'"}], "mark": {"type": "errorbar", "extent": "stderr", "ticks": {"size": 6}, "color": "black"},
    "encoding": {"x": {"field": "g", "type": "nominal", "title": null, "scale": {"domain": ["N","0","5","10","30"], "paddingInner": 0.2, "paddingOuter": 0.35, "align": 0.85}, "axis": {"labelAngle": 0, "tickSize": 2, "labelFontSize": 9}},
                 "y": {"field": "v", "type": "quantitative", "title": null, "scale": {"domain": [0, 15000], "nice": false}, "axis": {"values": [0,5000,10000,15000], "format": "d"}}}},
   {"data": {"name": "bars"}, "transform": [{"filter": "datum.c == 'Cdc'"}], "mark": {"type": "bar", "stroke": "black", "strokeWidth": 1},
    "encoding": {"x": {"field": "g", "type": "nominal", "title": null}, "y": {"aggregate": "mean", "field": "v", "type": "quantitative", "title": null},
                 "fill": {"field": "g", "type": "nominal", "scale": {"domain": ["N","0","5","10","30"], "range": ["#ffffff","#5cc8f2","#f26dd8","#f47268","#66e066"]}, "legend": null}}},
   {"data": {"name": "bars"}, "transform": [{"filter": "datum.c == 'Cdc'"}], "mark": {"type": "point", "filled": true, "color": "black", "size": 10, "opacity": 1},
    "encoding": {"x": {"field": "g", "type": "nominal", "title": null}, "xOffset": {"field": "i", "type": "ordinal", "scale": {"paddingOuter": 0.3}}, "y": {"field": "v", "type": "quantitative", "title": null}}},
   {"data": {"name": "sigr"}, "transform": [{"filter": "datum.c == 'Cdc'"}], "mark": {"type": "rule", "color": "black", "strokeWidth": 0.8},
    "encoding": {"x": {"field": "x", "type": "nominal", "title": null}, "x2": {"field": "x2"}, "y": {"field": "y", "type": "quantitative", "title": null}, "y2": {"field": "y2"}}},
   {"data": {"name": "sigt"}, "transform": [{"filter": "datum.c == 'Cdc' && datum.h == 1"}], "mark": {"type": "text", "baseline": "alphabetic", "fontSize": 10, "color": "#2b4cff", "dx": 6.95},
    "encoding": {"x": {"field": "x", "type": "nominal", "title": null}, "y": {"field": "y", "type": "quantitative", "title": null}, "text": {"field": "t"}}},
   {"data": {"name": "sigt"}, "transform": [{"filter": "datum.c == 'Cdc' && datum.h == 0"}], "mark": {"type": "text", "baseline": "alphabetic", "fontSize": 10, "color": "#2b4cff"},
    "encoding": {"x": {"field": "x", "type": "nominal", "title": null}, "y": {"field": "y", "type": "quantitative", "title": null}, "text": {"field": "t"}}}
  ]
 },
 {"width": 90, "height": 0.01, "data": {"values": []}, "mark": "point"},
 {"width": 0.01, "height": 0.01, "data": {"values": []}, "mark": "point"},
 {"width": 13.5, "height": 0.01, "data": {"values": []}, "mark": "point"},
 {"width": 0.01, "height": 0.01, "data": {"values": []}, "mark": "point"},

 {
  "width": 1, "height": 25.5,
  "data": {"name": "diag"},
  "transform": [{"filter": "datum.d == 'D'"}],
  "encoding": {
   "x": {"field": "x", "type": "quantitative", "scale": {"domain": [0, 1], "nice": false, "zero": false}, "axis": null},
   "y": {"field": "y", "type": "quantitative", "scale": {"domain": [161.5, 187], "nice": false, "zero": false, "reverse": true}, "axis": null}
  },
  "layer": [
   {"transform": [{"filter": "datum.k == 'r'"}], "mark": {"type": "rule", "color": "black", "strokeWidth": 1}, "encoding": {"x2": {"field": "x2"}, "y2": {"field": "y2"}}},
   {"transform": [{"filter": "datum.k == 'vd'"}], "mark": {"type": "point", "shape": "triangle-down", "filled": true, "color": "black", "opacity": 1, "size": 40}},
   {"transform": [{"filter": "datum.k == 'vr'"}], "mark": {"type": "point", "shape": "triangle-right", "filled": true, "color": "black", "opacity": 1, "size": 40}},
   {"transform": [{"filter": "datum.k == 't'"}], "mark": {"type": "text", "fontSize": 9.5}, "encoding": {"text": {"field": "t"}}},
   {"transform": [{"filter": "datum.k == 'ts'"}], "mark": {"type": "text", "fontSize": 7.5}, "encoding": {"text": {"field": "t"}}},
   {"transform": [{"filter": "datum.k == 'ti'"}], "mark": {"type": "text", "fontSize": 10.5}, "encoding": {"text": {"field": "t"}}},
   {"transform": [{"filter": "datum.k == 'b'"}], "mark": {"type": "text", "fontSize": 16, "fontWeight": "bold"}, "encoding": {"text": {"field": "t"}}}
  ]
 },
 {"width": 0.01, "height": 0.01, "data": {"values": []}, "mark": "point"},
 {"width": 0.01, "height": 0.01, "data": {"values": []}, "mark": "point"},
 {"width": 0.01, "height": 0.01, "data": {"values": []}, "mark": "point"},
 {"width": 0.01, "height": 0.01, "data": {"values": []}, "mark": "point"},
 {"width": 0.01, "height": 0.01, "data": {"values": []}, "mark": "point"},
 {"width": 0.01, "height": 0.01, "data": {"values": []}, "mark": "point"},
 {"width": 0.01, "height": 0.01, "data": {"values": []}, "mark": "point"},
 {"width": 0.01, "height": 0.01, "data": {"values": []}, "mark": "point"},
 {
  "width": 1, "height": 1,
  "data": {"name": "diag"},
  "transform": [{"filter": "datum.d == 'Hb'"}],
  "encoding": {
   "x": {"field": "x", "type": "quantitative", "scale": {"domain": [516.5, 517.5], "nice": false, "zero": false}, "axis": null},
   "y": {"field": "y", "type": "quantitative", "scale": {"domain": [161.5, 162.5], "nice": false, "zero": false, "reverse": true}, "axis": null}
  },
  "layer": [
   {"transform": [{"filter": "datum.k == 'r'"}], "mark": {"type": "rule", "color": "black", "strokeWidth": 1.2}, "encoding": {"x2": {"field": "x2"}, "y2": {"field": "y2"}}},
   {"transform": [{"filter": "datum.k == 'vr'"}], "mark": {"type": "point", "shape": "triangle-right", "filled": true, "color": "black", "opacity": 1, "size": 50}},
   {"transform": [{"filter": "datum.k == 't'"}], "mark": {"type": "text", "fontSize": 9.5}, "encoding": {"text": {"field": "t"}}},
   {"transform": [{"filter": "datum.k == 'b'"}], "mark": {"type": "text", "fontSize": 16, "fontWeight": "bold"}, "encoding": {"text": {"field": "t"}}}
  ]
 },
 {"width": 0.01, "height": 0.01, "data": {"values": []}, "mark": "point"},
 {"width": 0.01, "height": 0.01, "data": {"values": []}, "mark": "point"},

 {"width": 0.01, "height": 0.01, "data": {"values": []}, "mark": "point"},
 {"width": 0.01, "height": 0.01, "data": {"values": []}, "mark": "point"},
 {"width": 0.01, "height": 0.01, "data": {"values": []}, "mark": "point"},
 {"width": 0.01, "height": 0.01, "data": {"values": []}, "mark": "point"},
 {"width": 0.01, "height": 0.01, "data": {"values": []}, "mark": "point"},
 {"width": 0.01, "height": 0.01, "data": {"values": []}, "mark": "point"},
 {"width": 0.01, "height": 0.01, "data": {"values": []}, "mark": "point"},
 {"width": 0.01, "height": 0.01, "data": {"values": []}, "mark": "point"},
 {"width": 0.01, "height": 0.01, "data": {"values": []}, "mark": "point"},
 {
  "width": 89, "height": 72,
  "layer": [
   {"data": {"name": "bars"}, "transform": [{"filter": "datum.c == 'Ieos'"}], "mark": {"type": "errorbar", "extent": "stderr", "ticks": {"size": 6}, "color": "black"},
    "encoding": {"x": {"field": "g", "type": "nominal", "title": null, "scale": {"domain": ["N","Sal","RW5","RW10","RWnw"], "paddingInner": 0.3, "paddingOuter": 0.27, "align": 0.78}, "axis": {"labelAngle": 0, "ticks": false, "labelPadding": 2, "labelFontSize": 8.5, "labelExpr": "datum.value == 'N' || datum.value == 'RWnw' ? '(-)' : (datum.value == 'RW10' ? '10' : '5')"}},
                 "y": {"field": "v", "type": "quantitative", "title": "Cells/conjunctiva", "scale": {"domain": [0, 20000], "nice": false}, "axis": {"values": [0,5000,10000,15000,20000], "format": "d", "titleFontSize": 8.5}}}},
   {"data": {"name": "bars"}, "transform": [{"filter": "datum.c == 'Ieos'"}], "mark": {"type": "bar", "stroke": "black", "strokeWidth": 1},
    "encoding": {"x": {"field": "g", "type": "nominal", "title": null}, "y": {"aggregate": "mean", "field": "v", "type": "quantitative", "title": "Cells/conjunctiva"},
                 "fill": {"field": "g", "type": "nominal", "scale": {"domain": ["N","Sal","RW5","RW10","RWnw"], "range": ["#ffffff","#2a8fe0","#f47fe0","#f47268","#ffa200"]}, "legend": null}}},
   {"data": {"name": "bars"}, "transform": [{"filter": "datum.c == 'Ieos'"}], "mark": {"type": "point", "filled": true, "color": "black", "size": 10, "opacity": 1},
    "encoding": {"x": {"field": "g", "type": "nominal", "title": null}, "xOffset": {"field": "i", "type": "ordinal", "scale": {"paddingOuter": 0.3}}, "y": {"field": "v", "type": "quantitative", "title": "Cells/conjunctiva"}}},
   {"data": {"name": "sigr"}, "transform": [{"filter": "datum.c == 'Ieos'"}], "mark": {"type": "rule", "color": "black", "strokeWidth": 0.8},
    "encoding": {"x": {"field": "x", "type": "nominal", "title": null}, "x2": {"field": "x2"}, "y": {"field": "y", "type": "quantitative", "title": "Cells/conjunctiva"}, "y2": {"field": "y2"}}},
   {"data": {"name": "sigr"}, "transform": [{"filter": "datum.c == 'IeosH'"}], "mark": {"type": "rule", "color": "black", "strokeWidth": 0.8, "x2Offset": 8},
    "encoding": {"x": {"field": "x", "type": "nominal", "title": null}, "x2": {"field": "x2"}, "y": {"field": "y", "type": "quantitative", "title": "Cells/conjunctiva"}, "y2": {"field": "y2"}}},
   {"data": {"name": "sigt"}, "transform": [{"filter": "datum.c == 'Ieos'"}], "mark": {"type": "text", "baseline": "alphabetic", "fontSize": 9, "color": "#2b4cff"},
    "encoding": {"x": {"field": "x", "type": "nominal", "title": null}, "y": {"field": "y", "type": "quantitative", "title": "Cells/conjunctiva"}, "text": {"field": "t"}}}
  ]
 },
 {"width": 0.01, "height": 0.01, "data": {"values": []}, "mark": "point"},
 {
  "width": 88, "height": 72,
  "layer": [
   {"data": {"name": "bars"}, "transform": [{"filter": "datum.c == 'Icd4'"}], "mark": {"type": "errorbar", "extent": "stderr", "ticks": {"size": 6}, "color": "black"},
    "encoding": {"x": {"field": "g", "type": "nominal", "title": null, "scale": {"domain": ["N","Sal","RW5","RW10","RWnw"], "paddingInner": 0.28, "paddingOuter": 0.27, "align": 0.67}, "axis": {"labelAngle": 0, "ticks": false, "labelPadding": 2, "labelFontSize": 8.5, "labelExpr": "datum.value == 'N' || datum.value == 'RWnw' ? '(-)' : (datum.value == 'RW10' ? '10' : '5')"}},
                 "y": {"field": "v", "type": "quantitative", "title": "Cells/conjunctiva", "scale": {"domain": [0, 2000], "nice": false}, "axis": {"values": [0,500,1000,1500,2000], "format": "d", "titleFontSize": 8.5}}}},
   {"data": {"name": "bars"}, "transform": [{"filter": "datum.c == 'Icd4'"}], "mark": {"type": "bar", "stroke": "black", "strokeWidth": 1},
    "encoding": {"x": {"field": "g", "type": "nominal", "title": null}, "y": {"aggregate": "mean", "field": "v", "type": "quantitative", "title": "Cells/conjunctiva"},
                 "fill": {"field": "g", "type": "nominal", "scale": {"domain": ["N","Sal","RW5","RW10","RWnw"], "range": ["#ffffff","#2a8fe0","#f47fe0","#f47268","#ffa200"]}, "legend": null}}},
   {"data": {"name": "bars"}, "transform": [{"filter": "datum.c == 'Icd4'"}], "mark": {"type": "point", "filled": true, "color": "black", "size": 10, "opacity": 1},
    "encoding": {"x": {"field": "g", "type": "nominal", "title": null}, "xOffset": {"field": "i", "type": "ordinal", "scale": {"paddingOuter": 0.3}}, "y": {"field": "v", "type": "quantitative", "title": "Cells/conjunctiva"}}},
   {"data": {"name": "sigr"}, "transform": [{"filter": "datum.c == 'Icd4'"}], "mark": {"type": "rule", "color": "black", "strokeWidth": 0.8},
    "encoding": {"x": {"field": "x", "type": "nominal", "title": null}, "x2": {"field": "x2"}, "y": {"field": "y", "type": "quantitative", "title": "Cells/conjunctiva"}, "y2": {"field": "y2"}}},
   {"data": {"name": "sigr"}, "transform": [{"filter": "datum.c == 'Icd4H'"}], "mark": {"type": "rule", "color": "black", "strokeWidth": 0.8, "x2Offset": 8},
    "encoding": {"x": {"field": "x", "type": "nominal", "title": null}, "x2": {"field": "x2"}, "y": {"field": "y", "type": "quantitative", "title": "Cells/conjunctiva"}, "y2": {"field": "y2"}}},
   {"data": {"name": "sigt"}, "transform": [{"filter": "datum.c == 'Icd4'"}], "mark": {"type": "text", "baseline": "alphabetic", "fontSize": 9, "color": "#2b4cff"},
    "encoding": {"x": {"field": "x", "type": "nominal", "title": null}, "y": {"field": "y", "type": "quantitative", "title": "Cells/conjunctiva"}, "text": {"field": "t"}}}
  ]
 },

 {"width": 0.01, "height": 3, "data": {"values": []}, "mark": "point"},
 {"width": 0.01, "height": 0.01, "data": {"values": []}, "mark": "point"},
 {"width": 0.01, "height": 0.01, "data": {"values": []}, "mark": "point"},
 {"width": 0.01, "height": 0.01, "data": {"values": []}, "mark": "point"},
 {"width": 0.01, "height": 0.01, "data": {"values": []}, "mark": "point"},
 {"width": 0.01, "height": 0.01, "data": {"values": []}, "mark": "point"},
 {"width": 0.01, "height": 0.01, "data": {"values": []}, "mark": "point"},
 {"width": 0.01, "height": 0.01, "data": {"values": []}, "mark": "point"},
 {"width": 0.01, "height": 0.01, "data": {"values": []}, "mark": "point"},
 {
  "width": 1, "height": 1,
  "data": {"name": "diag"},
  "transform": [{"filter": "datum.d == 'IJ'"}],
  "encoding": {
   "x": {"field": "x", "type": "quantitative", "scale": {"domain": [516.5, 517.5], "nice": false, "zero": false}, "axis": null},
   "y": {"field": "y", "type": "quantitative", "scale": {"domain": [259, 260], "nice": false, "zero": false, "reverse": true}, "axis": null}
  },
  "layer": [
   {"transform": [{"filter": "datum.k == 'r'"}], "mark": {"type": "rule", "color": "#555555", "strokeWidth": 1}, "encoding": {"x2": {"field": "x2"}, "y2": {"field": "y2"}}},
   {"transform": [{"filter": "datum.k == 'ts'"}], "mark": {"type": "text", "fontSize": 8.5}, "encoding": {"text": {"field": "t"}}},
   {"transform": [{"filter": "datum.k == 'tr'"}], "mark": {"type": "text", "fontSize": 9.5, "angle": 270}, "encoding": {"text": {"field": "t"}}},
   {"transform": [{"filter": "datum.k == 'b'"}], "mark": {"type": "text", "fontSize": 16, "fontWeight": "bold"}, "encoding": {"text": {"field": "t"}}}
  ]
 },
 {"width": 0.01, "height": 0.01, "data": {"values": []}, "mark": "point"},
 {"width": 0.01, "height": 0.01, "data": {"values": []}, "mark": "point"},

 {
  "width": 1, "height": 1,
  "data": {"name": "diag"},
  "transform": [{"filter": "datum.d == 'G'"}],
  "encoding": {
   "x": {"field": "x", "type": "quantitative", "scale": {"domain": [0, 1], "nice": false, "zero": false}, "axis": null},
   "y": {"field": "y", "type": "quantitative", "scale": {"domain": [262, 263], "nice": false, "zero": false, "reverse": true}, "axis": null}
  },
  "layer": [
   {"transform": [{"filter": "datum.k == 'r'"}], "mark": {"type": "rule", "color": "black", "strokeWidth": 1}, "encoding": {"x2": {"field": "x2"}, "y2": {"field": "y2"}}},
   {"transform": [{"filter": "datum.k == 'rd'"}], "mark": {"type": "rule", "color": "black", "strokeWidth": 1, "strokeDash": [4, 3]}, "encoding": {"x2": {"field": "x2"}, "y2": {"field": "y2"}}},
   {"transform": [{"filter": "datum.k == 'box'"}], "mark": {"type": "rect", "filled": false, "color": "black", "strokeWidth": 1, "cornerRadius": 7}, "encoding": {"x2": {"field": "x2"}, "y2": {"field": "y2"}}},
   {"transform": [{"filter": "datum.k == 'vd'"}], "mark": {"type": "point", "shape": "triangle-down", "filled": true, "color": "black", "opacity": 1, "size": 40}},
   {"transform": [{"filter": "datum.k == 'vr'"}], "mark": {"type": "point", "shape": "triangle-right", "filled": true, "color": "black", "opacity": 1, "size": 40}},
   {"transform": [{"filter": "datum.k == 't'"}], "mark": {"type": "text", "fontSize": 9.5}, "encoding": {"text": {"field": "t"}}},
   {"transform": [{"filter": "datum.k == 'b'"}], "mark": {"type": "text", "fontSize": 16, "fontWeight": "bold"}, "encoding": {"text": {"field": "t"}}}
  ]
 },
 {
  "width": 57, "height": 78,
  "layer": [
   {"data": {"name": "bars"}, "transform": [{"filter": "datum.c == 'Emac'"}], "mark": {"type": "errorbar", "extent": "stderr", "ticks": {"size": 7}, "color": "black"},
    "encoding": {"x": {"field": "g", "type": "nominal", "title": null, "scale": {"domain": ["N","OVA","S"], "paddingInner": 0.22, "paddingOuter": 0.3, "align": 0.8}, "axis": {"labelAngle": -45, "tickSize": 2, "labelFontSize": 9, "labelExpr": "datum.value == 'S' ? 'Shell + OVA' : datum.value"}},
                 "y": {"field": "v", "type": "quantitative", "title": "% AF647+", "scale": {"domain": [0, 100], "nice": false}, "axis": {"values": [0,20,40,60,80,100]}}}},
   {"data": {"name": "bars"}, "transform": [{"filter": "datum.c == 'Emac'"}], "mark": {"type": "bar", "stroke": "black", "strokeWidth": 1},
    "encoding": {"x": {"field": "g", "type": "nominal", "title": null}, "y": {"aggregate": "mean", "field": "v", "type": "quantitative", "title": "% AF647+"},
                 "fill": {"field": "g", "type": "nominal", "scale": {"domain": ["N","OVA","S"], "range": ["#ffffff","#5cc8f2","#f47268"]}, "legend": null}}},
   {"data": {"name": "bars"}, "transform": [{"filter": "datum.c == 'Emac'"}], "mark": {"type": "point", "filled": true, "color": "black", "size": 10, "opacity": 1},
    "encoding": {"x": {"field": "g", "type": "nominal", "title": null}, "xOffset": {"field": "i", "type": "ordinal", "scale": {"paddingOuter": 0.3}}, "y": {"field": "v", "type": "quantitative", "title": "% AF647+"}}},
   {"data": {"name": "sigr"}, "transform": [{"filter": "datum.c == 'Emac'"}], "mark": {"type": "rule", "color": "black", "strokeWidth": 0.8},
    "encoding": {"x": {"field": "x", "type": "nominal", "title": null}, "x2": {"field": "x2"}, "y": {"field": "y", "type": "quantitative", "title": "% AF647+"}, "y2": {"field": "y2"}}},
   {"data": {"name": "sigt"}, "transform": [{"filter": "datum.c == 'Emac'"}], "mark": {"type": "text", "baseline": "alphabetic", "fontSize": 10, "color": "black", "dx": 8.7},
    "encoding": {"x": {"field": "x", "type": "nominal", "title": null}, "y": {"field": "y", "type": "quantitative", "title": "% AF647+"}, "text": {"field": "t"}}}
  ]
 },
 {"width": 0.01, "height": 0.01, "data": {"values": []}, "mark": "point"},
 {
  "width": 64.4, "height": 78,
  "layer": [
   {"data": {"name": "bars"}, "transform": [{"filter": "datum.c == 'Edc'"}], "mark": {"type": "errorbar", "extent": "stderr", "ticks": {"size": 7}, "color": "black"},
    "encoding": {"x": {"field": "g", "type": "nominal", "title": null, "scale": {"domain": ["N","OVA","S"], "paddingInner": 0.22, "paddingOuter": 0.4, "align": 0.5}, "axis": {"labelAngle": -45, "tickSize": 2, "labelFontSize": 9, "labelExpr": "datum.value == 'S' ? 'Shell + OVA' : datum.value"}},
                 "y": {"field": "v", "type": "quantitative", "title": null, "scale": {"domain": [0, 80], "nice": false}, "axis": {"values": [0,20,40,60,80]}}}},
   {"data": {"name": "bars"}, "transform": [{"filter": "datum.c == 'Edc'"}], "mark": {"type": "bar", "stroke": "black", "strokeWidth": 1},
    "encoding": {"x": {"field": "g", "type": "nominal", "title": null}, "y": {"aggregate": "mean", "field": "v", "type": "quantitative", "title": null},
                 "fill": {"field": "g", "type": "nominal", "scale": {"domain": ["N","OVA","S"], "range": ["#ffffff","#5cc8f2","#f47268"]}, "legend": null}}},
   {"data": {"name": "bars"}, "transform": [{"filter": "datum.c == 'Edc'"}], "mark": {"type": "point", "filled": true, "color": "black", "size": 10, "opacity": 1},
    "encoding": {"x": {"field": "g", "type": "nominal", "title": null}, "xOffset": {"field": "i", "type": "ordinal", "scale": {"paddingOuter": 0.3}}, "y": {"field": "v", "type": "quantitative", "title": null}}},
   {"data": {"name": "sigr"}, "transform": [{"filter": "datum.c == 'Edc'"}], "mark": {"type": "rule", "color": "black", "strokeWidth": 0.8},
    "encoding": {"x": {"field": "x", "type": "nominal", "title": null}, "x2": {"field": "x2"}, "y": {"field": "y", "type": "quantitative", "title": null}, "y2": {"field": "y2"}}},
   {"data": {"name": "sigt"}, "transform": [{"filter": "datum.c == 'Edc'"}], "mark": {"type": "text", "baseline": "alphabetic", "fontSize": 10, "color": "black", "dx": 9},
    "encoding": {"x": {"field": "x", "type": "nominal", "title": null}, "y": {"field": "y", "type": "quantitative", "title": null}, "text": {"field": "t"}}}
  ]
 },
 {"width": 0.01, "height": 0.01, "data": {"values": []}, "mark": "point"},
 {
  "width": 58, "height": 78,
  "layer": [
   {"data": {"name": "bars"}, "transform": [{"filter": "datum.c == 'Fmac'"}], "mark": {"type": "errorbar", "extent": "stderr", "ticks": {"size": 7}, "color": "black"},
    "encoding": {"x": {"field": "g", "type": "nominal", "title": null, "scale": {"domain": ["N","OVA","S"], "paddingInner": 0.18, "paddingOuter": 0.3, "align": 0.85}, "axis": {"labelAngle": -45, "tickSize": 2, "labelFontSize": 9, "labelExpr": "datum.value == 'S' ? 'Shell + OVA' : datum.value"}},
                 "y": {"field": "v", "type": "quantitative", "title": "AF647 MFI (A.U.)", "scale": {"domain": [0, 30000], "nice": false}, "axis": {"values": [0,10000,20000,30000], "format": "d"}}}},
   {"data": {"name": "bars"}, "transform": [{"filter": "datum.c == 'Fmac'"}], "mark": {"type": "bar", "stroke": "black", "strokeWidth": 1},
    "encoding": {"x": {"field": "g", "type": "nominal", "title": null}, "y": {"aggregate": "mean", "field": "v", "type": "quantitative", "title": "AF647 MFI (A.U.)"},
                 "fill": {"field": "g", "type": "nominal", "scale": {"domain": ["N","OVA","S"], "range": ["#ffffff","#5cc8f2","#f47268"]}, "legend": null}}},
   {"data": {"name": "bars"}, "transform": [{"filter": "datum.c == 'Fmac'"}], "mark": {"type": "point", "filled": true, "color": "black", "size": 10, "opacity": 1},
    "encoding": {"x": {"field": "g", "type": "nominal", "title": null}, "xOffset": {"field": "i", "type": "ordinal", "scale": {"paddingOuter": 0.3}}, "y": {"field": "v", "type": "quantitative", "title": "AF647 MFI (A.U.)"}}},
   {"data": {"name": "sigr"}, "transform": [{"filter": "datum.c == 'Fmac'"}], "mark": {"type": "rule", "color": "black", "strokeWidth": 0.8},
    "encoding": {"x": {"field": "x", "type": "nominal", "title": null}, "x2": {"field": "x2"}, "y": {"field": "y", "type": "quantitative", "title": "AF647 MFI (A.U.)"}, "y2": {"field": "y2"}}},
   {"data": {"name": "sigt"}, "transform": [{"filter": "datum.c == 'Fmac'"}], "mark": {"type": "text", "baseline": "alphabetic", "fontSize": 10, "color": "black", "dx": 8.5},
    "encoding": {"x": {"field": "x", "type": "nominal", "title": null}, "y": {"field": "y", "type": "quantitative", "title": "AF647 MFI (A.U.)"}, "text": {"field": "t"}}}
  ]
 },
 {"width": 0.01, "height": 0.01, "data": {"values": []}, "mark": "point"},
 {
  "width": 60, "height": 78,
  "layer": [
   {"data": {"name": "bars"}, "transform": [{"filter": "datum.c == 'Fdc'"}], "mark": {"type": "errorbar", "extent": "stderr", "ticks": {"size": 7}, "color": "black"},
    "encoding": {"x": {"field": "g", "type": "nominal", "title": null, "scale": {"domain": ["N","OVA","S"], "paddingInner": 0.35, "paddingOuter": 0.2, "align": 0.6}, "axis": {"labelAngle": -45, "tickSize": 2, "labelFontSize": 9, "labelExpr": "datum.value == 'S' ? 'Shell + OVA' : datum.value"}},
                 "y": {"field": "v", "type": "quantitative", "title": null, "scale": {"domain": [0, 15000], "nice": false}, "axis": {"values": [0,5000,10000,15000], "format": "d"}}}},
   {"data": {"name": "bars"}, "transform": [{"filter": "datum.c == 'Fdc'"}], "mark": {"type": "bar", "stroke": "black", "strokeWidth": 1},
    "encoding": {"x": {"field": "g", "type": "nominal", "title": null}, "y": {"aggregate": "mean", "field": "v", "type": "quantitative", "title": null},
                 "fill": {"field": "g", "type": "nominal", "scale": {"domain": ["N","OVA","S"], "range": ["#ffffff","#5cc8f2","#f47268"]}, "legend": null}}},
   {"data": {"name": "bars"}, "transform": [{"filter": "datum.c == 'Fdc'"}], "mark": {"type": "point", "filled": true, "color": "black", "size": 10, "opacity": 1},
    "encoding": {"x": {"field": "g", "type": "nominal", "title": null}, "xOffset": {"field": "i", "type": "ordinal", "scale": {"paddingOuter": 0.3}}, "y": {"field": "v", "type": "quantitative", "title": null}}},
   {"data": {"name": "sigr"}, "transform": [{"filter": "datum.c == 'Fdc'"}], "mark": {"type": "rule", "color": "black", "strokeWidth": 0.8},
    "encoding": {"x": {"field": "x", "type": "nominal", "title": null}, "x2": {"field": "x2"}, "y": {"field": "y", "type": "quantitative", "title": null}, "y2": {"field": "y2"}}},
   {"data": {"name": "sigt"}, "transform": [{"filter": "datum.c == 'Fdc'"}], "mark": {"type": "text", "baseline": "alphabetic", "fontSize": 10, "color": "black", "dx": 10},
    "encoding": {"x": {"field": "x", "type": "nominal", "title": null}, "y": {"field": "y", "type": "quantitative", "title": null}, "text": {"field": "t"}}}
  ]
 },
 {"width": 0.01, "height": 0.01, "data": {"values": []}, "mark": "point"},
 {
  "width": 121, "height": 169,
  "layer": [
   {"data": {"name": "J"}, "transform": [{"regression": "eos", "on": "cd4", "extent": [140, 1200]}], "mark": {"type": "line", "color": "black", "strokeWidth": 1},
    "encoding": {"x": {"field": "cd4", "type": "quantitative", "title": "CD4+ST2+T (cells / conjunctiva)", "scale": {"domain": [0, 1200], "nice": false}, "axis": {"values": [0, 400, 800, 1200], "format": "d", "titleFontSize": 9.5}},
                 "y": {"field": "eos", "type": "quantitative", "title": null, "scale": {"domain": [0, 29912], "nice": false}, "axis": {"values": [0, 5000, 10000, 15000, 20000], "format": "d", "domain": false}}}},
   {"data": {"values": [{}]}, "mark": {"type": "rule", "color": "black", "strokeWidth": 1},
    "encoding": {"x": {"datum": 0}, "y": {"datum": 0}, "y2": {"datum": 20000}}},
   {"data": {"name": "J"}, "mark": {"type": "point", "filled": true, "stroke": "black", "strokeWidth": 0.8, "size": 50, "opacity": 1},
    "encoding": {"x": {"field": "cd4", "type": "quantitative", "title": "CD4+ST2+T (cells / conjunctiva)"}, "y": {"field": "eos", "type": "quantitative", "title": null},
                 "fill": {"field": "grp", "type": "nominal", "scale": {"domain": ["N", "Sal 5 min", "RW 5 min", "RW 10 min", "RW No wash"], "range": ["#ffffff", "#4fc1f0", "#f07ce8", "#f2706a", "#f5b000"]},
                          "legend": {"title": null, "orient": "none", "legendX": 132, "legendY": 98, "symbolType": "circle", "symbolSize": 50, "symbolStrokeColor": "black", "symbolStrokeWidth": 0.8, "labelFontSize": 10, "labelOffset": 6, "rowPadding": 1, "padding": 0}}}},
   {"data": {"values": [{}]}, "mark": {"type": "text", "fontStyle": "italic", "align": "left", "fontSize": 10.5}, "encoding": {"x": {"datum": 255}, "y": {"datum": 18200}, "text": {"value": "r"}}},
   {"data": {"values": [{}]}, "mark": {"type": "text", "align": "left", "fontSize": 10.5}, "encoding": {"x": {"datum": 345}, "y": {"datum": 18200}, "text": {"value": "=  0.9189"}}},
   {"data": {"values": [{}]}, "mark": {"type": "text", "fontStyle": "italic", "align": "left", "fontSize": 10.5}, "encoding": {"x": {"datum": 255}, "y": {"datum": 15600}, "text": {"value": "p"}}},
   {"data": {"values": [{}]}, "mark": {"type": "text", "align": "left", "fontSize": 10.5}, "encoding": {"x": {"datum": 345}, "y": {"datum": 15600}, "text": {"value": "<0.0001"}}}
  ]
 },
 {"width": 0.01, "height": 0.01, "data": {"values": []}, "mark": "point"},
 {"width": 0.01, "height": 0.01, "data": {"values": []}, "mark": "point"}
]
}
